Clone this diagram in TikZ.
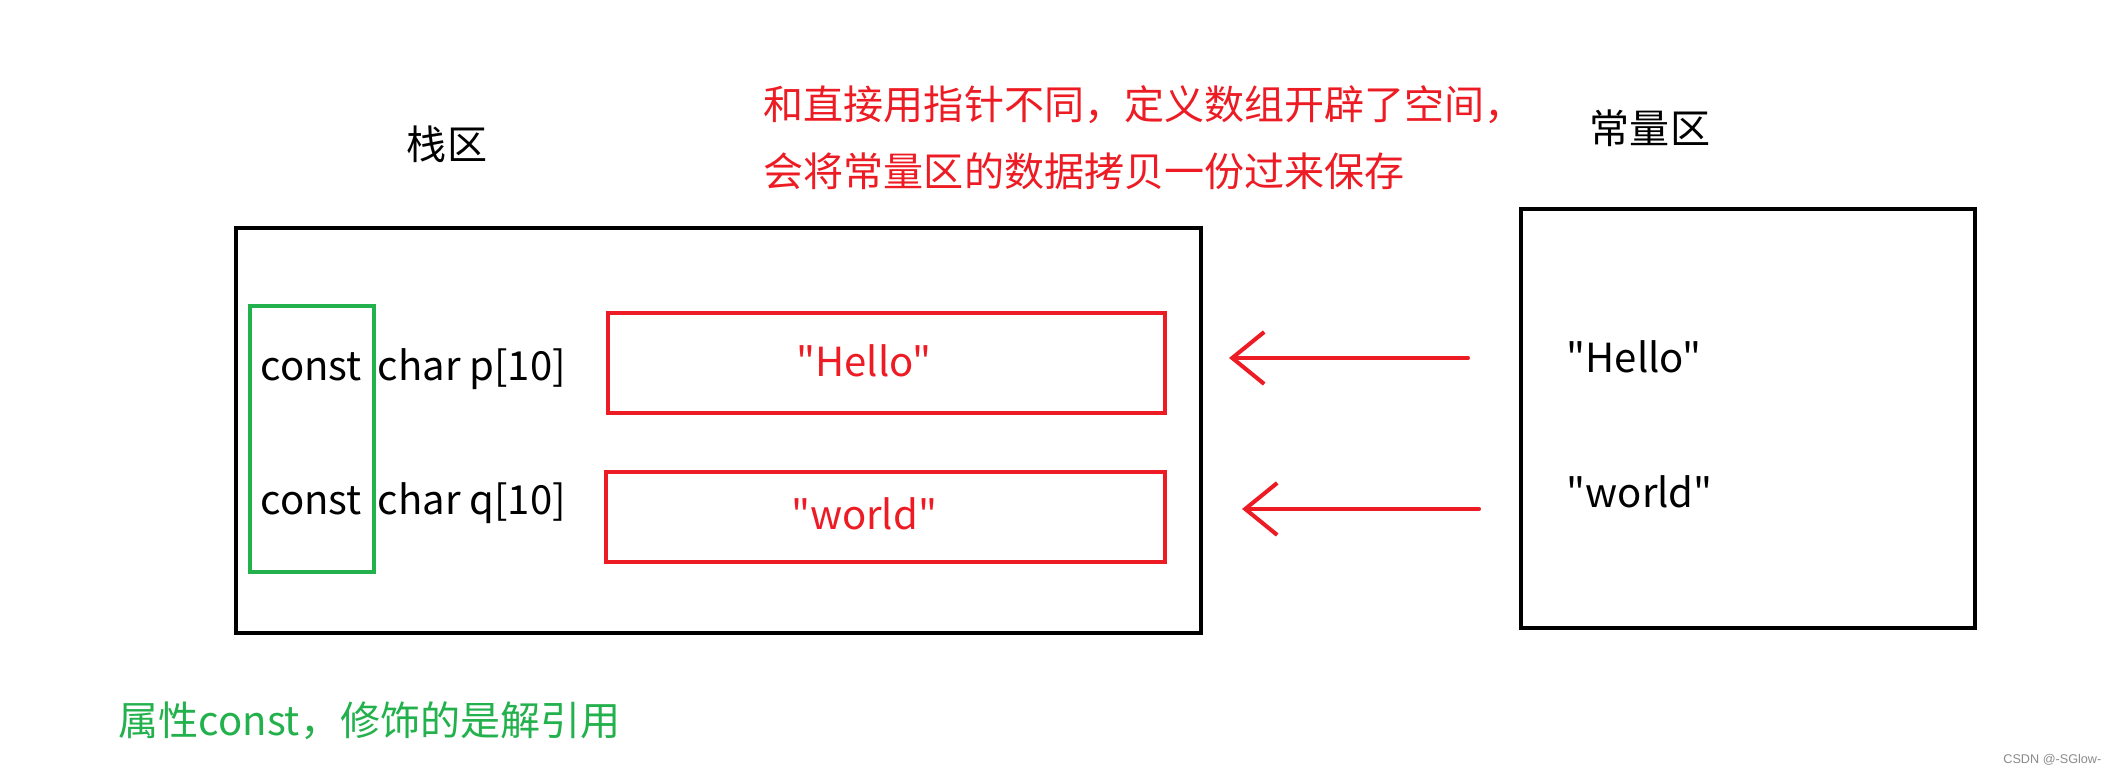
\documentclass[tikz,border=0pt]{standalone}
\usepackage{fontspec}
\setmainfont{Noto Sans CJK SC}[Ligatures=TeXOff]
\newfontfamily\markfont{Liberation Sans}
\usetikzlibrary{arrows.meta,positioning}
\definecolor{Mark}{HTML}{ED1C24}
\definecolor{Leaf}{HTML}{22B14C}
\definecolor{Stamp}{HTML}{8A8A8A}

\begin{document}
\begin{tikzpicture}[
  font=\fontsize{11.4}{14}\selectfont,
  inner sep=0pt,
  region/.style={draw=black,line width=1.15pt},
  slot/.style={draw=Mark,line width=1.15pt},
  attr/.style={draw=Leaf,line width=0.9pt},
  copyarr/.style={-{Straight Barb[length=3.2mm,width=5.2mm]},line width=1.15pt,
    color=Mark,line cap=round,line join=round}
]
\useasboundingbox (0,0) rectangle (21.1,7.75);

% Stack region with two arrays.
\node (stacklabel) at (4.47,6.31) {栈区};
\node[region,minimum width=9.65cm,minimum height=4.05cm] (stack) at (7.185,3.445) {};
\foreach \n/\y in {p/3.94,q/2.60} {
  \node[anchor=base west] (\n const) at (2.60,\y) {const};
  \node[anchor=base west] (\n decl) at (3.77,\y) {char \n[10]};
}
\node[attr,minimum width=1.24cm,minimum height=2.66cm] (attrbox) at (3.12,3.36) {};
\node[slot,minimum width=5.57cm,minimum height=1.00cm] (pslot) at (8.865,4.12) {};
\node[slot,minimum width=5.59cm,minimum height=0.90cm] (qslot) at (8.855,2.58) {};
\node[anchor=base,text=Mark] (pstr) at (8.64,3.98) {"Hello"};
\node[anchor=base,text=Mark] (qstr) at (8.64,2.45) {"world"};

% Constant region.
\node (poollabel) at (16.50,6.47) {常量区};
\node[region,minimum width=4.54cm,minimum height=4.19cm] (pool) at (17.48,3.565) {};
\node[anchor=base west] (chello) at (15.66,4.02) {"Hello"};
\node[anchor=base west] (cworld) at (15.66,2.67) {"world"};

% Copy arrows.
\coordinate (from1) at (14.68,4.17);
\coordinate (to1) at (12.29,4.17);
\coordinate (from2) at (14.79,2.66);
\coordinate (to2) at (12.42,2.66);
\draw[copyarr] (from1) -- (to1);
\draw[copyarr] (from2) -- (to2);

% Notes.
\node[anchor=west,text=Mark,align=left,font=\fontsize{11.4}{19}\selectfont] (note) at (7.63,6.375)
  {和直接用指针不同，定义数组开辟了空间，\\会将常量区的数据拷贝一份过来保存};
\node[anchor=west,text=Leaf] (hint) at (1.18,0.54) {属性const，修饰的是解引用};
\node[anchor=east,text=Stamp,font=\markfont\fontsize{3.6}{4}\selectfont] (stamp) at (21.02,0.15)
  {CSDN @-SGlow-};
\end{tikzpicture}
\end{document}
